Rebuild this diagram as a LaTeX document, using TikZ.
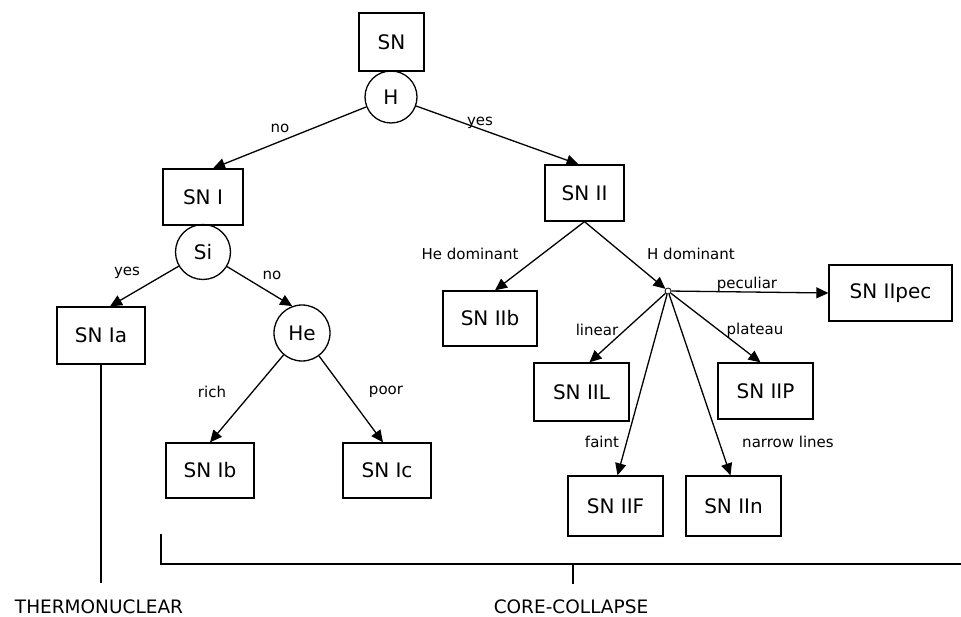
\documentclass[tikz,border=0pt]{standalone}
\usepackage{fontspec}
\setmainfont{DejaVu Sans}
\usetikzlibrary{arrows.meta}
\begin{document}
\begin{tikzpicture}[x=1pt,y=-1pt,line width=1.3pt,
  box/.style={draw,rectangle,inner sep=0pt,font=\fontsize{20}{24}\selectfont},
  test/.style={draw,circle,inner sep=0pt,font=\fontsize{20}{24}\selectfont},
  lbl/.style={inner sep=0pt,font=\fontsize{15}{18}\selectfont},
  big/.style={inner sep=0pt,font=\fontsize{18.5}{22}\selectfont},
  arr/.style={-{Triangle[length=12pt,width=11pt]}}]
\path[use as bounding box] (0,0) rectangle (961,617);
% nodes
\node[box,minimum width=65pt,minimum height=58pt] (SN) at (391.5,42) {SN};
\node[test,minimum size=52pt] (H) at (391,97) {H};
\node[box,minimum width=80pt,minimum height=56pt] (SNI) at (203,197) {SN I};
\node[test,minimum size=55pt] (Si) at (203,252) {Si};
\node[box,minimum width=88pt,minimum height=57pt] (SNIa) at (101,335.5) {SN Ia};
\node[test,minimum size=56pt] (He) at (302,333) {He};
\node[box,minimum width=88pt,minimum height=55pt] (SNIb) at (210,470.5) {SN Ib};
\node[box,minimum width=88pt,minimum height=55pt] (SNIc) at (387,470.5) {SN Ic};
\node[box,minimum width=79pt,minimum height=56pt] (SNII) at (584.5,193) {SN II};
\node[box,minimum width=94pt,minimum height=55pt] (SNIIb) at (490,318.5) {SN IIb};
\node[draw,circle,minimum size=6pt,inner sep=0pt,line width=0.8pt] (J) at (668,291) {};
\node[box,minimum width=123pt,minimum height=56pt] (SNIIpec) at (890.5,293) {SN IIpec};
\node[box,minimum width=95pt,minimum height=58pt] (SNIIL) at (581.5,392) {SN IIL};
\node[box,minimum width=95pt,minimum height=56pt] (SNIIP) at (765.5,391) {SN IIP};
\node[box,minimum width=95pt,minimum height=60pt] (SNIIF) at (615.5,506) {SN IIF};
\node[box,minimum width=95pt,minimum height=60pt] (SNIIn) at (733.5,506) {SN IIn};
% arrows
\draw[arr] (H) -- ([xshift=10]SNI.north);
\draw[arr] (H) -- ([xshift=-6]SNII.north);
\draw[arr] (Si) -- ([xshift=9]SNIa.north);
\draw[arr] (Si) -- (He.110);
\draw[arr] (He) -- (SNIb.north);
\draw[arr] (He) -- ([xshift=-4]SNIc.north);
\draw[arr] (SNII.south) -- ([xshift=5]SNIIb.north);
\draw[arr] (SNII.south) -- (J);
\draw[arr] (J) -- (SNIIpec.west);
\draw[arr] (J) -- ([xshift=8]SNIIL.north);
\draw[arr] (J) -- ([xshift=-5]SNIIP.north);
\draw[arr] (J) -- ([xshift=2]SNIIF.north);
\draw[arr] (J) -- ([xshift=-3]SNIIn.north);
% labels
\node[lbl] (l1) at (280,128) {no};
\node[lbl] (l2) at (480,123) {yes};
\node[lbl] (l3) at (127,273) {yes};
\node[lbl] (l4) at (272,275) {no};
\node[lbl] (l5) at (212,392) {rich};
\node[lbl] (l6) at (386,392) {poor};
\node[lbl] (l7) at (470,254) {He dominant};
\node[lbl] (l8) at (691,254) {H dominant};
\node[lbl] (l9) at (747,284) {peculiar};
\node[lbl] (l10) at (597,330) {linear};
\node[lbl] (l11) at (755,330) {plateau};
\node[lbl] (l12) at (602,442) {faint};
\node[lbl] (l13) at (788,442) {narrow lines};
% bottom
\coordinate (IaEnd) at (101,583);
\draw (SNIa.south) -- (IaEnd);
\coordinate (b1) at (161,534);
\coordinate (b2) at (161,564);
\coordinate (b3) at (961,564);
\coordinate (t1) at (573,564);
\coordinate (t2) at (573,584);
\draw (b1) -- (b2) -- (b3);
\draw (t1) -- (t2);
\node[big] (thermo) at (99,607) {THERMONUCLEAR};
\node[big] (cc) at (571,607) {CORE-COLLAPSE};
\end{tikzpicture}
\end{document}
